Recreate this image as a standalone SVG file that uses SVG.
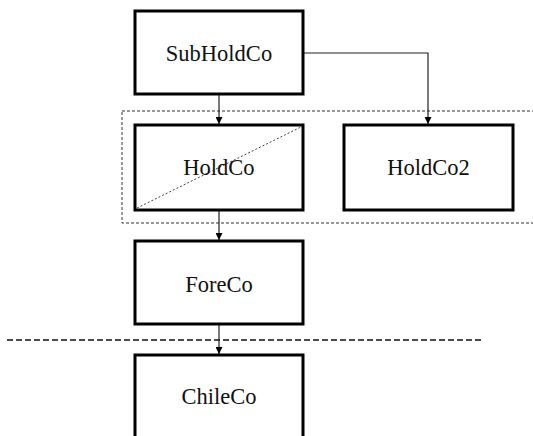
<svg xmlns="http://www.w3.org/2000/svg" width="533" height="436" viewBox="0 0 533 436">
  <style>
    .box { fill: #fff; stroke: #000; stroke-width: 3; }
    .label { font-family: "Liberation Serif", "Times New Roman", serif; font-size: 22.5px; fill: #111; text-anchor: middle; }
    .link { fill: none; stroke: #222; stroke-width: 1.2; }
    .group { fill: none; stroke: #333; stroke-width: 1; stroke-dasharray: 3 2; }
    .divider { fill: none; stroke: #111; stroke-width: 1.6; stroke-dasharray: 6 3; }
  </style>
  <defs>
    <marker id="arrow" viewBox="0 0 10 10" refX="10" refY="5" markerWidth="7" markerHeight="7" markerUnits="userSpaceOnUse" orient="auto">
      <path d="M0,0 L10,5 L0,10 Z" fill="#000"/>
    </marker>
  </defs>

  <rect id="white" x="0" y="0" width="533" height="436" fill="#fff"/>

  <!-- dashed grouping around the two holding companies -->
  <rect id="holdco-group" class="group" x="122" y="111" width="420" height="112"/>

  <!-- jurisdiction divider -->
  <line id="divider" class="divider" x1="7" y1="340" x2="482" y2="340"/>

  <g id="connectors">
    <line class="link" x1="219" y1="95" x2="219" y2="124" marker-end="url(#arrow)"/>
    <polyline class="link" points="304,53 428,53 428,124" marker-end="url(#arrow)"/>
    <line class="link" x1="219" y1="211" x2="219" y2="240" marker-end="url(#arrow)"/>
    <line class="link" x1="219" y1="325" x2="219" y2="354" marker-end="url(#arrow)"/>
  </g>

  <g id="subholdco">
    <rect class="box" x="135" y="11" width="168" height="83"/>
    <text class="label" x="219" y="61">SubHoldCo</text>
  </g>

  <g id="holdco">
    <rect class="box" x="135" y="125" width="168" height="85"/>
    <line x1="137" y1="208" x2="301" y2="127" stroke="#444" stroke-width="1" stroke-dasharray="2 2"/>
    <text class="label" x="219" y="175">HoldCo</text>
  </g>

  <g id="holdco2">
    <rect class="box" x="344" y="125" width="169" height="85"/>
    <text class="label" x="428.5" y="175">HoldCo2</text>
  </g>

  <g id="foreco">
    <rect class="box" x="135" y="241" width="168" height="83"/>
    <text class="label" x="219" y="292">ForeCo</text>
  </g>

  <g id="chileco">
    <rect class="box" x="135" y="355" width="168" height="85"/>
    <text class="label" x="219" y="404">ChileCo</text>
  </g>
</svg>
